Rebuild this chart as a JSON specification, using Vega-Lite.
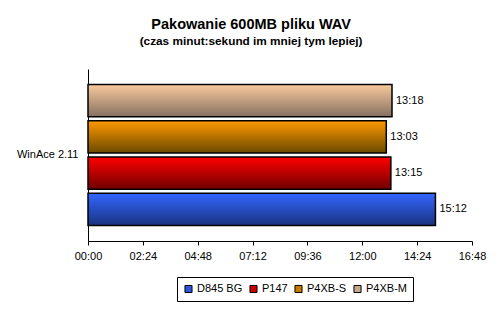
{
  "$schema": "https://vega.github.io/schema/vega-lite/v6.json",
  "width": 384,
  "height": 172,
  "padding": {"left": 16, "top": 16, "right": 16, "bottom": 6},
  "background": "white",
  "config": {
    "font": "Liberation Sans",
    "view": {"stroke": null}
  },
  "title": {
    "text": "Pakowanie 600MB pliku WAV",
    "subtitle": "(czas minut:sekund im mniej tym lepiej)",
    "font": "Liberation Sans",
    "fontSize": 14.5,
    "fontWeight": "bold",
    "color": "black",
    "subtitleFont": "Liberation Sans",
    "subtitleFontSize": 11.8,
    "subtitleFontWeight": "bold",
    "subtitleColor": "black",
    "subtitlePadding": 4,
    "anchor": "middle",
    "frame": "bounds",
    "offset": 20
  },
  "data": {
    "values": [
      {"group": "WinAce 2.11", "series": "D845 BG", "seconds": 912, "label": "15:12"},
      {"group": "WinAce 2.11", "series": "P147", "seconds": 795, "label": "13:15"},
      {"group": "WinAce 2.11", "series": "P4XB-S", "seconds": 783, "label": "13:03"},
      {"group": "WinAce 2.11", "series": "P4XB-M", "seconds": 798, "label": "13:18"}
    ]
  },
  "encoding": {
    "y": {
      "field": "group",
      "type": "nominal",
      "scale": {"paddingInner": 0, "paddingOuter": 0.11},
      "axis": {
        "title": null,
        "domainColor": "black",
        "domainWidth": 1,
        "ticks": false,
        "labelPadding": 10,
        "labelFontSize": 11,
        "labelColor": "black",
        "labelFont": "Liberation Sans"
      }
    },
    "yOffset": {
      "field": "series",
      "type": "nominal",
      "sort": ["P4XB-M", "P4XB-S", "P147", "D845 BG"],
      "scale": {"paddingInner": 0.111, "paddingOuter": 0}
    },
    "x": {
      "field": "seconds",
      "type": "quantitative",
      "scale": {"domain": [0, 1008], "nice": false, "zero": true},
      "axis": {
        "title": null,
        "values": [0, 144, 288, 432, 576, 720, 864, 1008],
        "labelExpr": "utcFormat(datum.value * 1000, '%M:%S')",
        "labelFlush": false,
        "grid": false,
        "domainColor": "black",
        "tickColor": "black",
        "tickSize": 4,
        "labelPadding": 5,
        "labelFontSize": 11,
        "labelColor": "black",
        "labelFont": "Liberation Sans"
      }
    }
  },
  "layer": [
    {
      "mark": {"type": "bar"},
      "encoding": {
        "color": {
          "field": "series",
          "type": "nominal",
          "scale": {
            "domain": ["D845 BG", "P147", "P4XB-S", "P4XB-M"],
            "range": ["#2F55D6", "#C80000", "#C87A00", "#C4A78C"]
          },
          "legend": {
            "title": null,
            "orient": "none",
            "legendX": 89,
            "legendY": 208,
            "direction": "horizontal",
            "symbolType": "square",
            "symbolSize": 50,
            "symbolStrokeColor": "black",
            "symbolStrokeWidth": 1,
            "symbolOpacity": 1,
            "labelFontSize": 11,
            "labelFont": "Liberation Sans",
            "labelColor": "black",
            "labelOffset": 3,
            "columnPadding": 4,
            "strokeColor": "black",
            "padding": 6
          }
        }
      }
    },
    {
      "mark": {"type": "bar", "stroke": "black", "strokeWidth": 1.5},
      "encoding": {
        "fill": {
          "condition": [
            {"test": "datum.series === 'D845 BG'", "value": {"gradient": "linear", "x1": 0, "y1": 0, "x2": 0, "y2": 1, "stops": [{"offset": 0, "color": "#3366FF"}, {"offset": 1, "color": "#1A3380"}]}},
            {"test": "datum.series === 'P147'", "value": {"gradient": "linear", "x1": 0, "y1": 0, "x2": 0, "y2": 1, "stops": [{"offset": 0, "color": "#FF0000"}, {"offset": 1, "color": "#700000"}]}},
            {"test": "datum.series === 'P4XB-S'", "value": {"gradient": "linear", "x1": 0, "y1": 0, "x2": 0, "y2": 1, "stops": [{"offset": 0, "color": "#FF9900"}, {"offset": 1, "color": "#6B4A00"}]}}
          ],
          "value": {"gradient": "linear", "x1": 0, "y1": 0, "x2": 0, "y2": 1, "stops": [{"offset": 0, "color": "#F9CA9E"}, {"offset": 1, "color": "#857060"}]}
        }
      }
    },
    {
      "mark": {"type": "text", "align": "left", "baseline": "middle", "dx": 4, "fontSize": 11, "font": "Liberation Sans", "color": "black"},
      "encoding": {
        "text": {"field": "label", "type": "nominal"}
      }
    }
  ]
}
